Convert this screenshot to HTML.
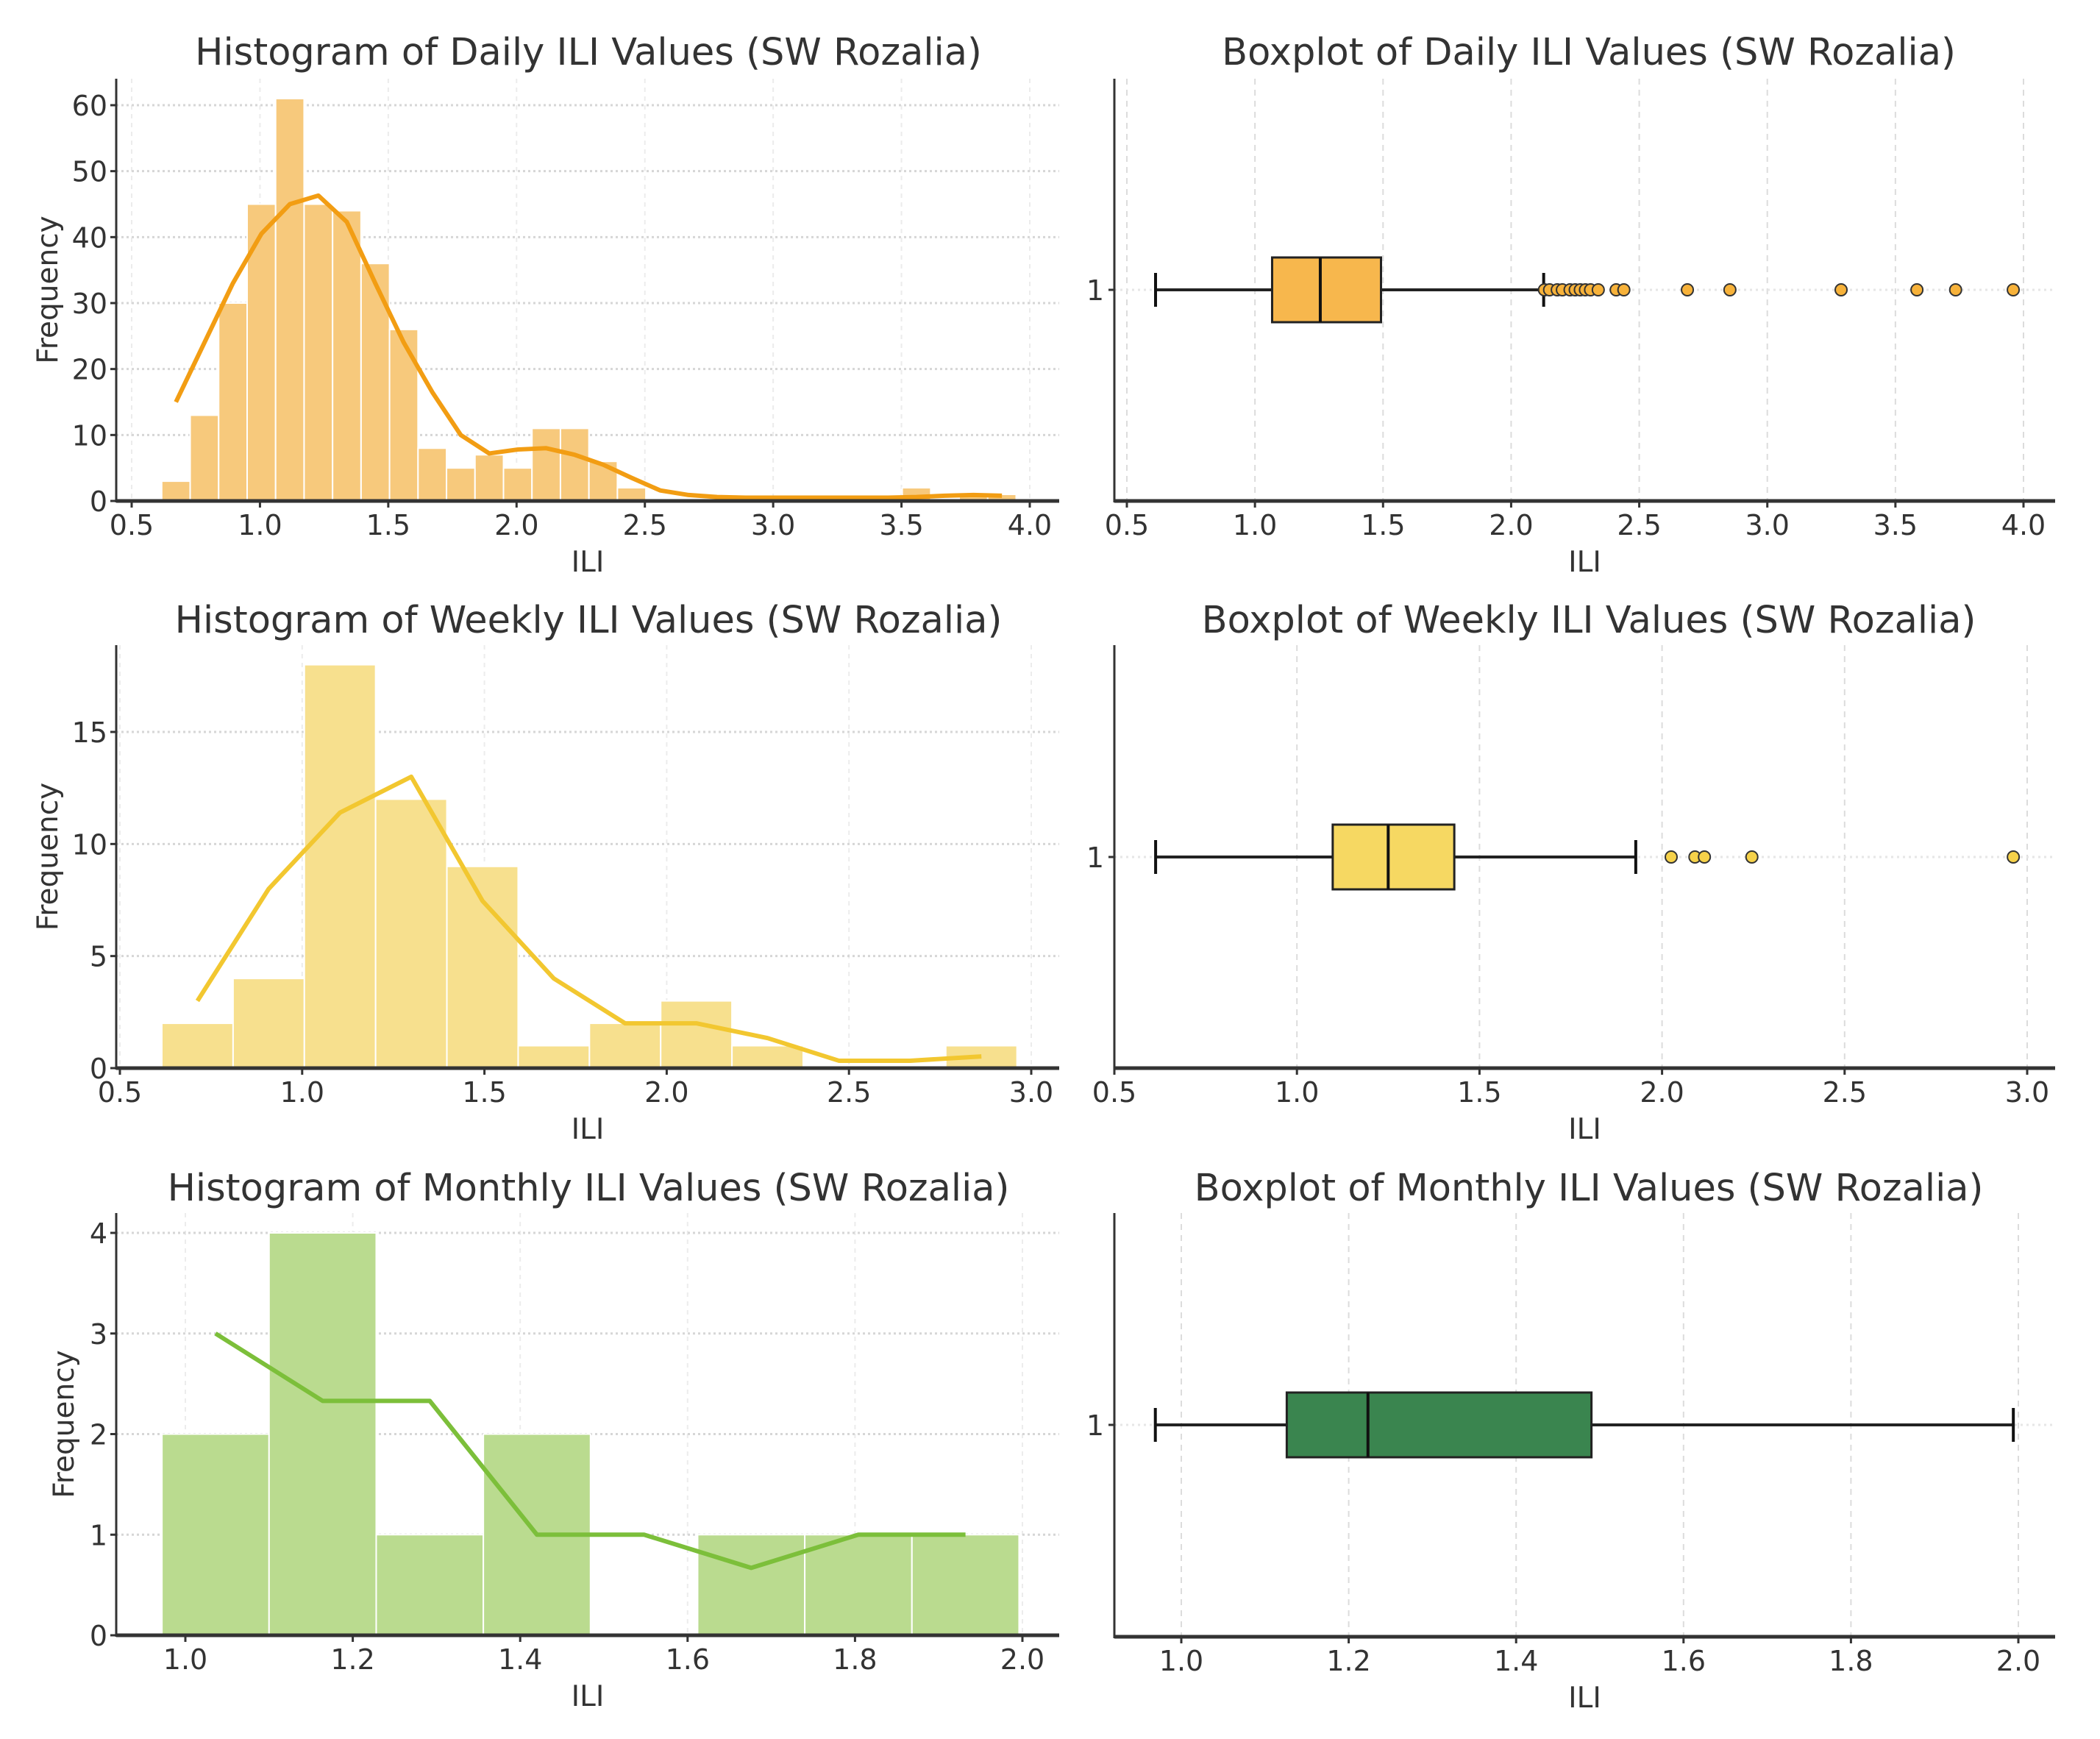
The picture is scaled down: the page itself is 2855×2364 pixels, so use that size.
<!DOCTYPE html>
<html><head><meta charset="utf-8"><style>
html,body{margin:0;padding:0;background:#fff;}
svg{display:block;font-family:"DejaVu Sans","Liberation Sans",sans-serif;}
</style></head><body>
<svg id="chart" width="2855" height="2364" viewBox="0 0 2855 2364" xmlns="http://www.w3.org/2000/svg"></svg>
<script>
// ---- Daily histogram data ----
const dailyBinStart = 0.617;
const dailyBinWidth = 0.111;
const dailyCounts = [3,13,30,45,61,45,44,36,26,8,5,7,5,11,11,6,2,0,0,0,0,0,0,0,0,0,2,0,1,1];
const dailyKde = [15,24,33,40.5,45,46.3,42.3,33,24,16.5,10,7.2,7.8,8,7,5.5,3.5,1.6,0.9,0.6,0.5,0.5,0.5,0.5,0.5,0.5,0.6,0.8,0.9,0.8];
const dailyXTicks = [0.5,1.0,1.5,2.0,2.5,3.0,3.5,4.0];
const dailyYTicks = [0,10,20,30,40,50,60];
// ---- Weekly histogram data ----
const weeklyBinStart = 0.615;
const weeklyBinWidth = 0.1955;
const weeklyCounts = [2,4,18,12,9,1,2,3,1,0,0,1];
const weeklyKde = [3,8,11.4,13,7.46,4,2,2,1.34,0.33,0.33,0.52];
const weeklyXTicks = [0.5,1.0,1.5,2.0,2.5,3.0];
const weeklyYTicks = [0,5,10,15];
// ---- Monthly histogram data ----
const monthlyBinStart = 0.972;
const monthlyBinWidth = 0.128;
const monthlyCounts = [2,4,1,2,0,1,1,1];
const monthlyKde = [3,2.33,2.33,1,1,0.67,1,1];
const monthlyXTicks = [1.0,1.2,1.4,1.6,1.8,2.0];
const monthlyYTicks = [0,1,2,3,4];
// ---- Boxplot stats: [whiskerLow, q1, median, q3, whiskerHigh] ----
const dailyBox = [0.612,1.067,1.255,1.492,2.127];
const dailyOutliers = [2.13,2.15,2.18,2.20,2.23,2.25,2.27,2.29,2.31,2.34,2.41,2.44,2.688,2.854,3.288,3.584,3.735,3.96];
const weeklyBox = [0.613,1.098,1.25,1.431,1.928];
const weeklyOutliers = [2.025,2.09,2.116,2.246,2.962];
const monthlyBox = [0.969,1.126,1.223,1.49,1.994];
const monthlyOutliers = [];
const dailyBoxTicks = [0.5,1.0,1.5,2.0,2.5,3.0,3.5,4.0];
const weeklyBoxTicks = [0.5,1.0,1.5,2.0,2.5,3.0];
const monthlyBoxTicks = [1.0,1.2,1.4,1.6,1.8,2.0];

const NS = 'http://www.w3.org/2000/svg';
const svg = document.getElementById('chart');
const TICK_FS = 38, AXIS_FS = 39, TITLE_FS = 51;
function mk(tag, attrs, parent){
  const e = document.createElementNS(NS, tag);
  for (const k in attrs) e.setAttribute(k, attrs[k]);
  (parent||svg).appendChild(e);
  return e;
}
function txt(s, attrs, parent){ const t = mk('text', attrs, parent); t.textContent = s; return t; }
function fmt(v, d){ return v.toFixed(d); }

function histPanel(cfg){
  const g = mk('g', {});
  
  
  const sx = v => cfg.x0 + (v - cfg.v0) * cfg.kx;
  const sy = v => cfg.yb - v * cfg.ky;
  cfg.xticks.forEach(v => {
    const l = mk('line', {x1:sx(v), x2:sx(v), y1:cfg.top, y2:cfg.yb, stroke:'#ececec', 'stroke-width':2, 'stroke-dasharray':'6,6'}, g);
    
    
  });
  cfg.yticks.forEach(v => {
    const l = mk('line', {x1:cfg.left, x2:cfg.right, y1:sy(v), y2:sy(v), stroke:'#d6d6d6', 'stroke-width':3, 'stroke-dasharray':'3,4'}, g);
    
    
  });
  cfg.counts.forEach((c, i) => {
    if (c <= 0) return;
    const a = cfg.binStart + i * cfg.binWidth;
    const r = mk('rect', {x:sx(a), y:sy(c), width:sx(a+cfg.binWidth)-sx(a), height:c*cfg.ky, fill:cfg.barColor, stroke:'#ffffff', 'stroke-width':2}, g);
    
    
  });
  const pts = cfg.kde.map((v, i) => sx(cfg.binStart + (i + 0.5) * cfg.binWidth) + ',' + sy(v)).join(' ');
  const pl = mk('polyline', {points:pts, fill:'none', stroke:cfg.lineColor, 'stroke-width':6, 'stroke-linejoin':'round'}, g);
  
  
  const sp1 = mk('line', {x1:cfg.left, x2:cfg.left, y1:cfg.top, y2:cfg.yb+2, stroke:'#333', 'stroke-width':3}, g);
  
  
  const sp2 = mk('line', {x1:cfg.left, x2:cfg.right, y1:cfg.yb, y2:cfg.yb, stroke:'#333', 'stroke-width':5}, g);
  
  
  cfg.xticks.forEach(v => {
    mk('line', {x1:sx(v), x2:sx(v), y1:cfg.yb, y2:cfg.yb+9, stroke:'#333', 'stroke-width':3}, g);
    const t = txt(fmt(v,1), {x:sx(v), y:cfg.yb+46, 'text-anchor':'middle', 'font-size':TICK_FS, fill:'#333'}, g);
    
    
  });
  cfg.yticks.forEach(v => {
    mk('line', {x1:cfg.left-8, x2:cfg.left, y1:sy(v), y2:sy(v), stroke:'#333', 'stroke-width':3}, g);
    const t = txt(String(v), {x:cfg.left-12, y:sy(v)+14, 'text-anchor':'end', 'font-size':TICK_FS, fill:'#333'}, g);
    
    
  });
  const xt = txt('ILI', {x:(cfg.left+cfg.right)/2, y:cfg.yb+96, 'text-anchor':'middle', 'font-size':AXIS_FS, fill:'#333'}, g);
  
  
  const yt = txt('Frequency', {x:0, y:0, 'text-anchor':'middle', 'font-size':AXIS_FS, fill:'#333', transform:'translate(' + (cfg.yTitleX) + ',' + ((cfg.top+cfg.yb)/2) + ') rotate(-90)'}, g);
  
  
  const tt = txt(cfg.title, {x:cfg.titleX, y:cfg.titleY, 'text-anchor':'middle', 'font-size':TITLE_FS, fill:'#333'}, g);
  
  
}

function boxPanel(cfg){
  const g = mk('g', {});
  
  
  const sx = v => cfg.x0 + (v - cfg.v0) * cfg.kx;
  const cy = cfg.cy;
  cfg.xticks.forEach(v => {
    const l = mk('line', {x1:sx(v), x2:sx(v), y1:cfg.top, y2:cfg.yb, stroke:'#dcdcdc', 'stroke-width':2, 'stroke-dasharray':'8,7'}, g);
    
    
  });
  const hg = mk('line', {x1:cfg.left, x2:cfg.right, y1:cy, y2:cy, stroke:'#e6e6e6', 'stroke-width':3, 'stroke-dasharray':'3,5'}, g);
  
  
  const b = cfg.stats;
  const h = 44;
  const w1 = mk('line', {x1:sx(b[0]), x2:sx(b[1]), y1:cy, y2:cy, stroke:'#222', 'stroke-width':4}, g);
  
  
  const w2 = mk('line', {x1:sx(b[3]), x2:sx(b[4]), y1:cy, y2:cy, stroke:'#222', 'stroke-width':4}, g);
  
  
  [b[0], b[4]].forEach(v => {
    const c = mk('line', {x1:sx(v), x2:sx(v), y1:cy-23, y2:cy+23, stroke:'#111', 'stroke-width':4}, g);
    
    
  });
  const box = mk('rect', {x:sx(b[1]), y:cy-h, width:sx(b[3])-sx(b[1]), height:2*h, fill:cfg.fill, stroke:'#222', 'stroke-width':3}, g);
  
  
  const md = mk('line', {x1:sx(b[2]), x2:sx(b[2]), y1:cy-h, y2:cy+h, stroke:'#111', 'stroke-width':4}, g);
  
  
  cfg.outliers.forEach(v => {
    const c = mk('circle', {cx:sx(v), cy:cy, r:8, fill:cfg.outlierFill, stroke:'#333', 'stroke-width':2}, g);
    
    
  });
  const sp1 = mk('line', {x1:cfg.left, x2:cfg.left, y1:cfg.top, y2:cfg.yb+2, stroke:'#333', 'stroke-width':3}, g);
  
  
  const sp2 = mk('line', {x1:cfg.left, x2:cfg.right, y1:cfg.yb, y2:cfg.yb, stroke:'#333', 'stroke-width':5}, g);
  
  
  cfg.xticks.forEach(v => {
    mk('line', {x1:sx(v), x2:sx(v), y1:cfg.yb, y2:cfg.yb+9, stroke:'#333', 'stroke-width':3}, g);
    const t = txt(fmt(v,1), {x:sx(v), y:cfg.yb+46, 'text-anchor':'middle', 'font-size':TICK_FS, fill:'#333'}, g);
    
    
  });
  mk('line', {x1:cfg.left-8, x2:cfg.left, y1:cy, y2:cy, stroke:'#333', 'stroke-width':3}, g);
  const yl = txt('1', {x:cfg.left-14, y:cy+14, 'text-anchor':'end', 'font-size':TICK_FS, fill:'#333'}, g);
  
  
  const xt = txt('ILI', {x:(cfg.left+cfg.right)/2, y:cfg.yb+96, 'text-anchor':'middle', 'font-size':AXIS_FS, fill:'#333'}, g);
  
  
  const tt = txt(cfg.title, {x:cfg.titleX, y:cfg.titleY, 'text-anchor':'middle', 'font-size':TITLE_FS, fill:'#333'}, g);
  
  
}

histPanel({name:'daily-histogram', title:'Histogram of Daily ILI Values (SW Rozalia)', titleX:800, titleY:88,
  left:158, right:1440, top:107, yb:681, x0:179, v0:0.5, kx:(1400-179)/3.5, ky:(681-143)/60, yTitleX:78,
  binStart:dailyBinStart, binWidth:dailyBinWidth, counts:dailyCounts, kde:dailyKde, xticks:dailyXTicks, yticks:dailyYTicks,
  barColor:'#f7c97c', lineColor:'#f29d13'});
histPanel({name:'weekly-histogram', title:'Histogram of Weekly ILI Values (SW Rozalia)', titleX:800, titleY:860,
  left:158, right:1440, top:877, yb:1452, x0:163, v0:0.5, kx:(1402-163)/2.5, ky:(1452-995)/15, yTitleX:78,
  binStart:weeklyBinStart, binWidth:weeklyBinWidth, counts:weeklyCounts, kde:weeklyKde, xticks:weeklyXTicks, yticks:weeklyYTicks,
  barColor:'#f7e08e', lineColor:'#f2c730'});
histPanel({name:'monthly-histogram', title:'Histogram of Monthly ILI Values (SW Rozalia)', titleX:800, titleY:1632,
  left:158, right:1440, top:1649, yb:2223, x0:252, v0:1.0, kx:(1390-252)/1.0, ky:(2223-1676)/4, yTitleX:100,
  binStart:monthlyBinStart, binWidth:monthlyBinWidth, counts:monthlyCounts, kde:monthlyKde, xticks:monthlyXTicks, yticks:monthlyYTicks,
  barColor:'#badb8f', lineColor:'#7cbf3a'});

boxPanel({name:'daily-boxplot', title:'Boxplot of Daily ILI Values (SW Rozalia)', titleX:2160, titleY:88,
  left:1515, right:2794, top:107, yb:681, cy:394, x0:1532, v0:0.5, kx:(2751-1532)/3.5,
  stats:dailyBox, outliers:dailyOutliers, xticks:dailyBoxTicks, fill:'#f7b74d', outlierFill:'#f7b23a'});
boxPanel({name:'weekly-boxplot', title:'Boxplot of Weekly ILI Values (SW Rozalia)', titleX:2160, titleY:860,
  left:1515, right:2794, top:877, yb:1452, cy:1165, x0:1515, v0:0.5, kx:(2756-1515)/2.5,
  stats:weeklyBox, outliers:weeklyOutliers, xticks:weeklyBoxTicks, fill:'#f6d862', outlierFill:'#f6d24a'});
boxPanel({name:'monthly-boxplot', title:'Boxplot of Monthly ILI Values (SW Rozalia)', titleX:2160, titleY:1632,
  left:1515, right:2794, top:1649, yb:2225, cy:1937, x0:1606, v0:1.0, kx:(2744-1606)/1.0,
  stats:monthlyBox, outliers:monthlyOutliers, xticks:monthlyBoxTicks, fill:'#3a854f', outlierFill:'#3a854f'});
</script>
</body></html>
